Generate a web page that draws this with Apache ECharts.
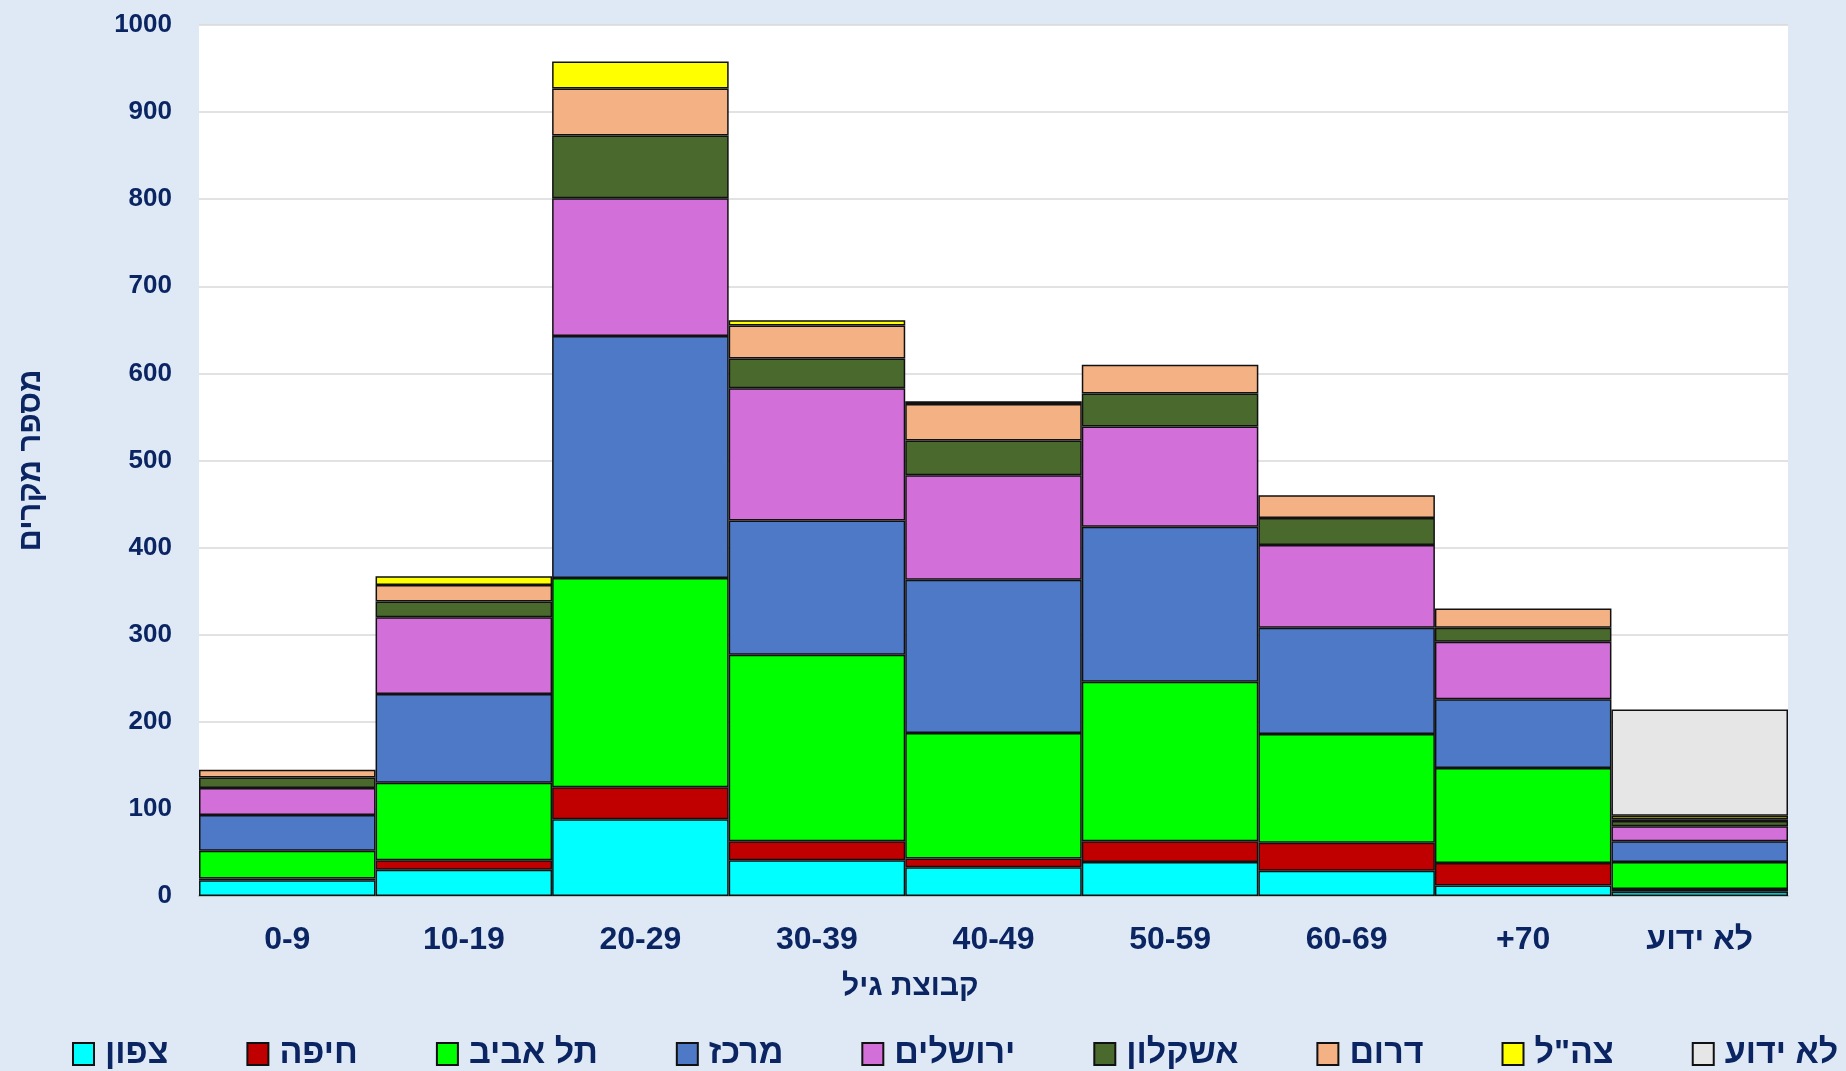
<!DOCTYPE html>
<html>
<head>
<meta charset="utf-8">
<script src="https://cdn.jsdelivr.net/npm/echarts@6/dist/echarts.min.js"></script>
<style>
html,body{margin:0;padding:0;background:#DEE9F5;}
#c{width:1846px;height:1071px;}
</style>
</head>
<body>
<div id="c"></div>
<script>
const categories = ['0-9','10-19','20-29','30-39','40-49','50-59','60-69','+70','לא ידוע'];
const seriesNames = ['צפון','חיפה','תל אביב','מרכז','ירושלים','אשקלון','דרום','צה"ל','לא ידוע'];
const north     = [18, 30, 88, 41, 33, 39, 29, 12, 5];
const haifa     = [2, 11, 37, 22, 10, 24, 32, 26, 3];
const telAviv   = [32, 89, 240, 214, 144, 183, 125, 109, 31];
const center    = [41, 102, 278, 154, 176, 178, 122, 79, 24];
const jerusalem = [31, 88, 158, 152, 120, 115, 95, 66, 17];
const ashkelon  = [12, 18, 72, 34, 40, 38, 31, 16, 6];
const south     = [9, 19, 54, 38, 42, 33, 26, 22, 2];
const idf       = [0, 10, 31, 6, 3, 0, 0, 0, 4];
const unknown   = [0, 0, 0, 0, 0, 0, 0, 0, 122];
const yTicks = [0,100,200,300,400,500,600,700,800,900,1000];
const colors = ['#00FFFF','#C00000','#00FF00','#4D79C6','#D26FD9','#4A6A2D','#F4B183','#FFFF00','#E6E6E6'];

const allData = [north, haifa, telAviv, center, jerusalem, ashkelon, south, idf, unknown];
const navy = '#0B2563';
const font = "'Liberation Sans', Arial, 'DejaVu Sans', sans-serif";

const chart = echarts.init(document.getElementById('c'), null, {renderer:'canvas'});
chart.setOption({
  backgroundColor: '#DEE9F5',
  animation: false,
  textStyle: {fontFamily: font},
  grid: {left: 199, right: 58, top: 25, bottom: 175, show: true, backgroundColor: '#FFFFFF', borderWidth: 0, containLabel: false, outerBoundsMode: 'none'},
  legend: {
    left: 67, top: 1032,
    itemWidth: 21, itemHeight: 22, itemGap: 78,
    icon: 'rect',
    textStyle: {fontSize: 34, fontWeight: 'bold', color: navy, fontFamily: font, padding: [0,0,0,6]},
    data: seriesNames
  },
  xAxis: {
    type: 'category',
    data: categories,
    axisLine: {show: true, lineStyle: {color: '#BFBFBF', width: 2}},
    axisTick: {show: false},
    axisLabel: {fontSize: 32, fontWeight: 'bold', color: navy, margin: 28, fontFamily: font},
    splitLine: {show: false}
  },
  yAxis: {
    type: 'value',
    min: 0, max: 1000, interval: 100,
    axisLine: {show: false},
    axisTick: {show: false},
    axisLabel: {fontSize: 26, fontWeight: 'bold', color: navy, margin: 27, fontFamily: font,
      formatter: v => yTicks.includes(v) ? String(v) : ''},
    splitLine: {lineStyle: {color: '#D9D9D9', width: 1.5}},
    name: 'מספר מקרים',
    nameLocation: 'middle',
    nameGap: 152,
    nameTextStyle: {fontSize: 31, fontWeight: 'bold', color: navy, fontFamily: font}
  },
  graphic: [{
    type: 'text', left: 842, top: 972,
    style: {text: 'קבוצת גיל', fontSize: 30, fontWeight: 'bold', fill: navy, fontFamily: font}
  }],
  series: seriesNames.map((name, i) => ({
    name: name,
    type: 'bar',
    stack: 'total',
    barCategoryGap: '0%',
    barGap: '0%',
    data: allData[i].map(v => v === 0 ? null : v),
    itemStyle: {color: colors[i], borderColor: '#111111', borderWidth: 1.5}
  }))
});
</script>
</body>
</html>
